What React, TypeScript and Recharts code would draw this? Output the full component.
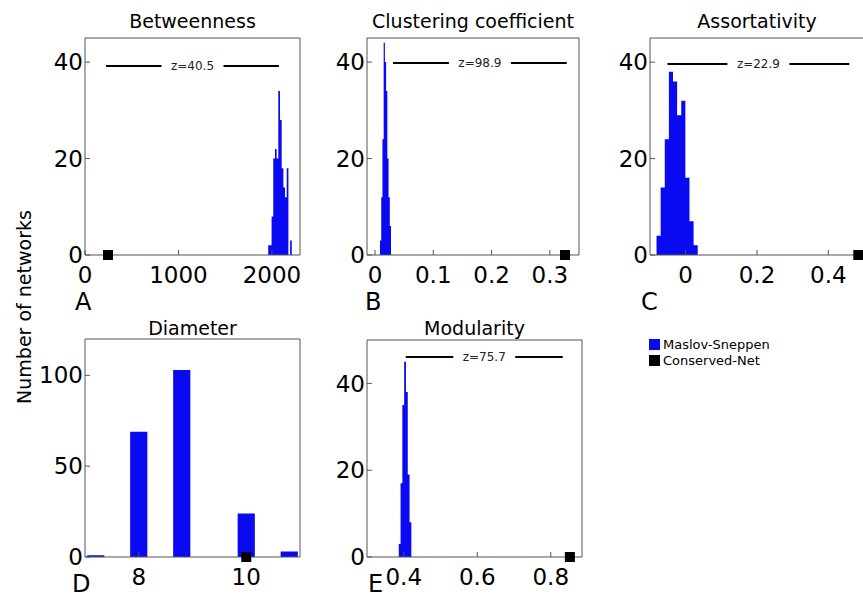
import { Area, ComposedChart, ReferenceLine, Scatter, XAxis, YAxis } from 'recharts';

const BLUE = '#0a0af2';
const FRAME = '#555';
const FONT = '"DejaVu Sans", sans-serif';

// A – betweenness histogram (bin start, bin width, counts)
const betweennessStart = 1960;
const betweennessBin = 18;
const betweennessCounts = [2, 2, 8, 20, 22, 20, 34, 28, 18, 14, 12, 18, 0, 3];
const betweennessNet = 246;
const betweennessTicks = [0, 1000, 2000];

// B – clustering coefficient
const clusteringStart = 0.0086;
const clusteringBin = 0.0021;
const clusteringCounts = [3, 12, 24, 44, 40, 34, 20, 12, 6];
const clusteringNet = 0.326;
const clusteringTicks = [0, 0.1, 0.2, 0.3];

// C – assortativity
const assortStart = -0.0817;
const assortBin = 0.01155;
const assortCounts = [4, 14, 24, 38, 36, 29, 32, 16, 7, 2];
const assortNet = 0.484;
const assortTicks = [0, 0.2, 0.4];

// D – diameter (bin centres)
const diameterCenters = [7.2, 7.6, 8.0, 8.4, 8.8, 9.2, 9.6, 10.0, 10.4, 10.8];
const diameterCounts = [1, 0, 69, 0, 103, 0, 0, 24, 0, 3];
const diameterNet = 10;
const diameterTicks = [8, 10];

// E – modularity
const modularityStart = 0.3864;
const modularityBin = 0.0049;
const modularityCounts = [3, 17, 35, 45, 38, 19, 8];
const modularityNet = 0.852;
const modularityTicks = [0.4, 0.6, 0.8];

// z-score bars: [from, to, height]
const zBetweenness = [225, 2075, 39.2];
const zClustering = [0.031, 0.329, 39.8];
const zAssort = [-0.051, 0.459, 39.6];
const zModularity = [0.4054, 0.8327, 46.1];
const zLabels = ['z=40.5', 'z=98.9', 'z=22.9', 'z=75.7'];

const ticks40 = [0, 20, 40];
const ticks100 = [0, 50, 100];

function histData(start: number, width: number, counts: number[]) {
  const pts = counts.map((c, i) => ({ x: start + i * width, y: c }));
  pts.push({ x: start + counts.length * width, y: 0 });
  return pts;
}

function barData(centers: number[], counts: number[], width: number) {
  return centers.flatMap((c, i) => [
    { x: c - width / 2, y: counts[i] },
    { x: c + width / 2, y: 0 },
  ]);
}

const zLabel = (text: string) => (props: any) => {
  const vb = props.viewBox;
  if (!vb) return null;
  const cx = vb.x + vb.width / 2;
  const cy = vb.y + vb.height / 2;
  return (
    <g>
      <rect x={cx - 31} y={cy - 7} width={62} height={14} fill="#fff" />
      <text x={cx} y={cy} dy="0.36em" textAnchor="middle" fontSize={12} fill="#222">
        {text}
      </text>
    </g>
  );
};

const square = (p: any) => <rect x={p.cx - 5} y={p.cy - 5} width={10} height={10} fill="#000" />;

interface PanelProps {
  left: number;
  top: number;
  w: number;
  h: number;
  data: { x: number; y: number }[];
  xDomain: [number, number];
  xTicks: number[];
  yDomain: [number, number];
  yTicks: number[];
  net: number;
  z?: number[];
  zText?: string;
}

function Panel({ left, top, w, h, data, xDomain, xTicks, yDomain, yTicks, net, z, zText }: PanelProps) {
  const tickStyle = { fontSize: 23, fill: '#000' };
  return (
    <div style={{ position: 'absolute', left: left - 85, top: top - 38 }}>
      <ComposedChart
        width={85 + w + 12}
        height={38 + h + 45}
        margin={{ top: 37, right: 11, left: 0, bottom: 0 }}
      >
        <XAxis
          dataKey="x"
          type="number"
          domain={xDomain}
          ticks={xTicks}
          interval={0}
          height={45}
          tickSize={-5}
          tickMargin={17}
          tick={tickStyle}
          stroke={FRAME}
        />
        <XAxis
          xAxisId="top"
          orientation="top"
          dataKey="x"
          type="number"
          domain={xDomain}
          ticks={xTicks}
          interval={0}
          height={1}
          tickSize={-4}
          tick={false}
          stroke={FRAME}
        />
        <YAxis
          type="number"
          domain={yDomain}
          ticks={yTicks}
          interval={0}
          width={85}
          tickSize={-5}
          tickMargin={7}
          tick={tickStyle}
          stroke={FRAME}
        />
        <YAxis
          yAxisId="right"
          orientation="right"
          type="number"
          domain={yDomain}
          ticks={yTicks}
          interval={0}
          width={1}
          tickSize={-4}
          tick={false}
          stroke={FRAME}
        />
        <Area
          data={data}
          dataKey="y"
          type="stepAfter"
          fill={BLUE}
          fillOpacity={1}
          stroke="none"
          baseValue={0}
          isAnimationActive={false}
        />
        {z && (
          <ReferenceLine
            segment={[
              { x: z[0], y: z[2] },
              { x: z[1], y: z[2] },
            ]}
            stroke="#000"
            strokeWidth={2}
            ifOverflow="visible"
            label={zLabel(zText || '')}
          />
        )}
        <Scatter data={[{ x: net, y: 0 }]} dataKey="y" shape={square} isAnimationActive={false} />
      </ComposedChart>
    </div>
  );
}

export default function App() {
  return (
    <div
      style={{
        position: 'absolute',
        left: 0,
        top: 0,
        width: 863,
        height: 597,
        overflow: 'hidden',
        background: '#fff',
        fontFamily: FONT,
      }}
    >
      <Panel
        left={85}
        top={38}
        w={215}
        h={217}
        data={histData(betweennessStart, betweennessBin, betweennessCounts)}
        xDomain={[0, 2300]}
        xTicks={betweennessTicks}
        yDomain={[0, 45]}
        yTicks={ticks40}
        net={betweennessNet}
        z={zBetweenness}
        zText={zLabels[0]}
      />
      <Panel
        left={367}
        top={38}
        w={212}
        h={217}
        data={histData(clusteringStart, clusteringBin, clusteringCounts)}
        xDomain={[-0.0137, 0.35]}
        xTicks={clusteringTicks}
        yDomain={[0, 45]}
        yTicks={ticks40}
        net={clusteringNet}
        z={zClustering}
        zText={zLabels[1]}
      />
      <Panel
        left={650}
        top={38}
        w={214}
        h={217}
        data={histData(assortStart, assortBin, assortCounts)}
        xDomain={[-0.1, 0.5]}
        xTicks={assortTicks}
        yDomain={[0, 45]}
        yTicks={ticks40}
        net={assortNet}
        z={zAssort}
        zText={zLabels[2]}
      />
      <Panel
        left={85}
        top={339}
        w={215}
        h={218}
        data={barData(diameterCenters, diameterCounts, 0.32)}
        xDomain={[7, 11]}
        xTicks={diameterTicks}
        yDomain={[0, 120]}
        yTicks={ticks100}
        net={diameterNet}
      />
      <Panel
        left={367}
        top={340}
        w={215}
        h={217}
        data={histData(modularityStart, modularityBin, modularityCounts)}
        xDomain={[0.3, 0.885]}
        xTicks={modularityTicks}
        yDomain={[0, 50]}
        yTicks={ticks40}
        net={modularityNet}
        z={zModularity}
        zText={zLabels[3]}
      />
      <svg
        width={863}
        height={597}
        style={{ position: 'absolute', left: 0, top: 0, pointerEvents: 'none' }}
        fontFamily={FONT}
      >
        <g fontSize={19} textAnchor="middle" fill="#000">
          <text x={192.5} y={28}>Betweenness</text>
          <text x={473} y={28}>Clustering coefficient</text>
          <text x={757} y={28}>Assortativity</text>
          <text x={192.5} y={335}>Diameter</text>
          <text x={474.5} y={335}>Modularity</text>
        </g>
        <g fontSize={24} fill="#000">
          <text x={75} y={310}>A</text>
          <text x={365} y={310}>B</text>
          <text x={641} y={310}>C</text>
          <text x={72} y={592}>D</text>
          <text x={368} y={592}>E</text>
        </g>
        <text x={0} y={0} transform="translate(31,307) rotate(-90)" fontSize={19} textAnchor="middle" fill="#000">
          Number of networks
        </text>
        <rect x={649} y={339} width={11} height={11} fill={BLUE} />
        <rect x={649} y={355} width={11} height={11} fill="#000" />
        <g fontSize={13} fill="#000">
          <text x={663} y={349}>Maslov-Sneppen</text>
          <text x={663} y={365}>Conserved-Net</text>
        </g>
      </svg>
    </div>
  );
}
